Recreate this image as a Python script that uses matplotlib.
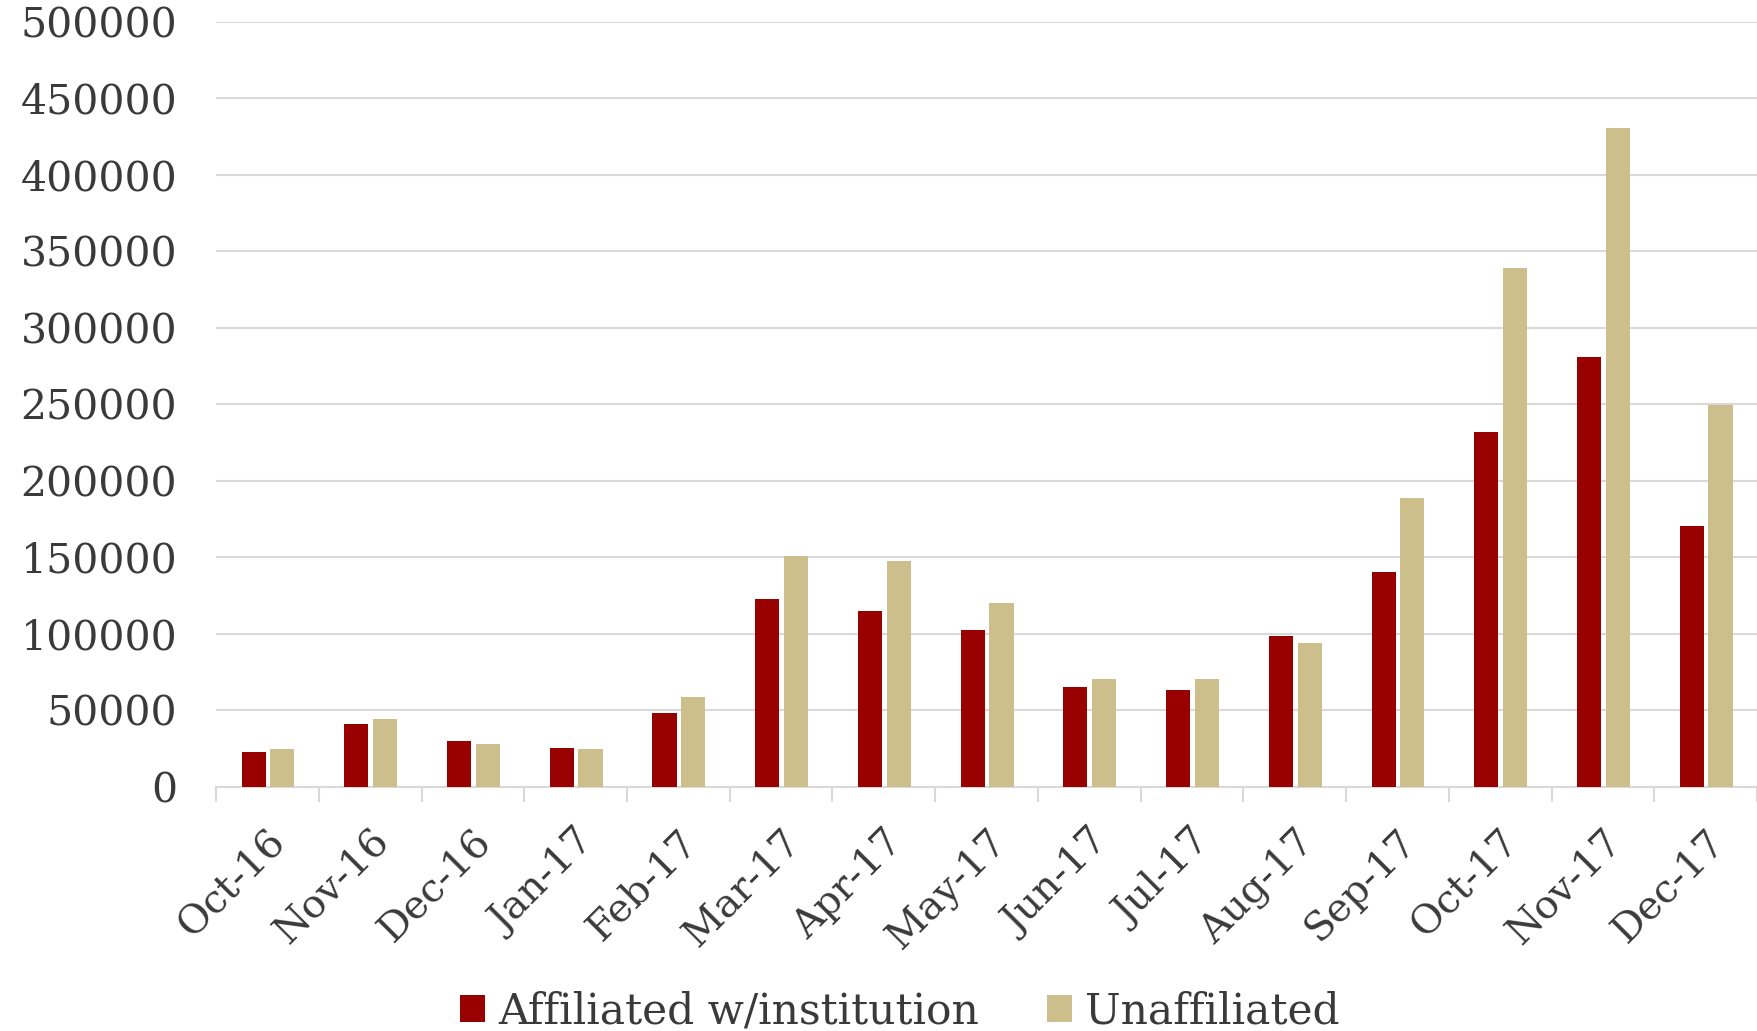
import matplotlib
matplotlib.use('Agg')
import matplotlib.pyplot as plt
import numpy as np

months = ['Oct-16', 'Nov-16', 'Dec-16', 'Jan-17', 'Feb-17', 'Mar-17', 'Apr-17', 'May-17',
          'Jun-17', 'Jul-17', 'Aug-17', 'Sep-17', 'Oct-17', 'Nov-17', 'Dec-17']
affiliated = [22700, 41000, 30000, 25600, 48300, 123000, 114900, 102500,
              65200, 63700, 98800, 140600, 232100, 281100, 170600]
unaffiliated = [24900, 44700, 27800, 24900, 58600, 150800, 147900, 120000,
                70300, 70300, 94400, 188900, 339000, 430500, 249600]
y_ticks = list(range(0, 500001, 50000))

red = '#990000'
tan = '#CDBF8B'
txt = '#3a3a3a'

plt.rcParams['font.family'] = ['DejaVu Serif']

fig = plt.figure(figsize=(17.57, 10.31), dpi=100)
ax = fig.add_axes([0.123, 0.2367, 0.877, 0.742])

x = np.arange(len(months))
w = 0.235
ax.bar(x - 0.135, affiliated, w, color=red, label='Affiliated w/institution', zorder=3)
ax.bar(x + 0.145, unaffiliated, w, color=tan, label='Unaffiliated', zorder=3)

ax.set_xlim(-0.5, len(months) - 0.5)
ax.set_ylim(0, 500000)
ax.set_yticks(y_ticks)
ax.set_yticklabels([str(v) for v in y_ticks], fontsize=29.5, color=txt)
ax.yaxis.grid(True, color='#d9d9d9', linewidth=1.5, zorder=0)
ax.tick_params(axis='y', length=0, pad=28)

# category ticks at the boundaries, labels at the centres
ax.set_xticks(np.arange(len(months) + 1) - 0.5)
ax.set_xticklabels([])
ax.set_xticks(x, minor=True)
ax.set_xticklabels(months, minor=True, rotation=45, ha='right', rotation_mode='anchor',
                   fontsize=28.5, color=txt)
ax.tick_params(axis='x', which='major', length=11, width=1.5, color='#d9d9d9')
ax.tick_params(axis='x', which='minor', length=0, pad=26)

for s in ['top', 'right', 'left']:
    ax.spines[s].set_visible(False)
ax.spines['bottom'].set_color('#d9d9d9')
ax.spines['bottom'].set_linewidth(1.5)

fig.legend(loc='lower center', bbox_to_anchor=(0.512, -0.038), ncol=2, frameon=False,
           fontsize=30.5, handlelength=0.6, handleheight=0.6, handletextpad=0.3,
           columnspacing=1.6, labelcolor=txt)

fig.savefig('out.png', dpi=100)
